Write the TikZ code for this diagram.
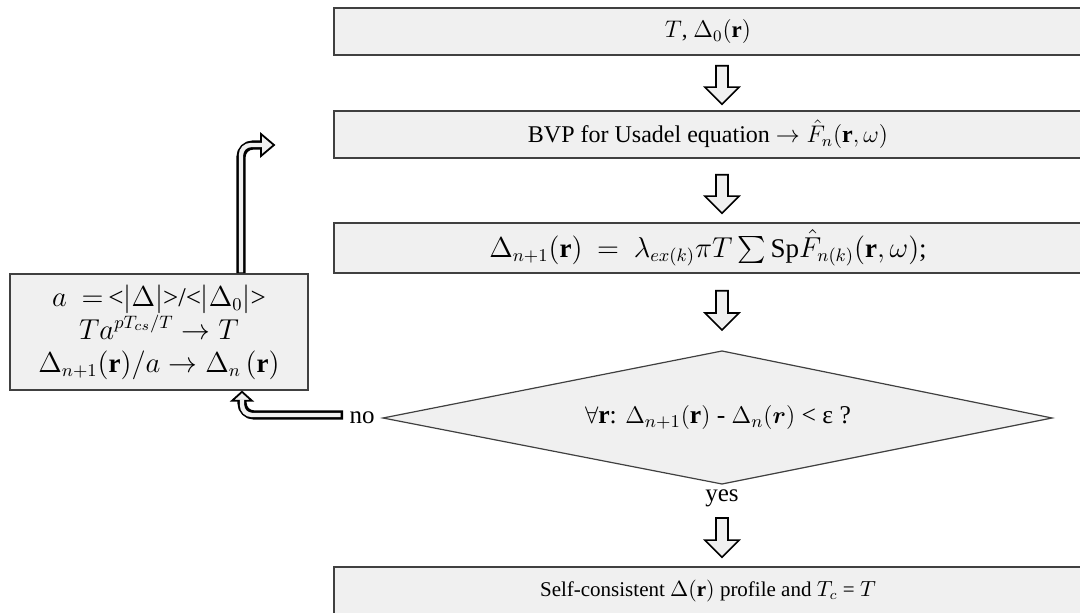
\documentclass[tikz,border=0pt]{standalone}
\usepackage{amsmath,amssymb}
\usepackage{fontspec}
\setmainfont{Liberation Serif}
\usetikzlibrary{calc,backgrounds}
\definecolor{boxfill}{HTML}{F0F0F0}
\definecolor{boxline}{HTML}{404040}
\newcommand\blkarrow[2]{%
  \path (#1) coordinate (ba-s) (#2) coordinate (ba-e);
  \filldraw[blkarrow] ($(ba-s)+(-6,0)$) -- ($(ba-s)+(6,0)$) -- ($(ba-e)+(6,-17)$)
    -- ($(ba-e)+(17,-17)$) -- (ba-e) -- ($(ba-e)+(-17,-17)$) -- ($(ba-e)+(-6,-17)$) -- cycle;}
\newcommand\fsz[1]{\fontsize{#1}{#1}\selectfont}
\begin{document}
\begin{tikzpicture}[x=0.5pt,y=-0.5pt,
  box/.style={draw=boxline, fill=boxfill, line width=0.8pt, inner sep=0pt},
  lbl/.style={inner sep=1pt},
  blkarrow/.style={fill=boxfill, draw=black, line width=0.8pt, line join=miter},
  hollowout/.style={draw=black, line width=4.6pt, rounded corners=6pt},
  hollowin/.style={draw=boxfill, line width=2.2pt, rounded corners=5pt},
  hollowhead/.style={fill=boxfill, draw=black, line width=0.9pt, line join=miter}]
\useasboundingbox (0,0) rectangle (1080,613);
% boxes
\node[box, minimum width=374pt, minimum height=23.5pt, font=\fsz{11.5}] (b1) at (708,31.5) {$T$, $\Delta_0(\mathbf r)$};
\node[box, minimum width=374pt, minimum height=23.5pt, font=\fsz{12}] (b2) at (708,134.5) {BVP for Usadel equation $\to \hat F_n(\mathbf r,\omega)$};
\node[box, minimum width=374pt, minimum height=25pt, font=\fsz{13.5}] (b3) at (708,248) {$\Delta_{n+1}(\mathbf r)\ =\ \lambda_{ex(k)}\pi T\sum\mathrm{Sp}\hat F_{n(k)}(\mathbf r,\omega)$;};
\node[box, minimum width=374pt, minimum height=24pt, font=\fsz{10.5}] (b4) at (708,591) {Self-consistent $\Delta(\mathbf r)$ profile and $T_c$ = $T$};
\node[box, minimum width=149pt, minimum height=58pt, align=center,
  font=\fontsize{13.5}{16.5}\selectfont] (lb) at (159,332)
  {$a\ =\,$<$|\Delta|$>/<$|\Delta_0|$>\\ $Ta^{pT_{cs}/T}\to T$\\ $\Delta_{n+1}(\mathbf r)/a\to\Delta_n\,(\mathbf r)$};
% decision
\node[lbl, font=\fsz{12.8}] (dia) at (718,418) {$\forall\mathbf r$: $\Delta_{n+1}(\mathbf r)$ - $\Delta_n(\boldsymbol r)$ < ε ?};
\coordinate (dia-l) at ($(dia)+(-335,0)$);
\coordinate (dia-r) at ($(dia)+(334,0)$);
\coordinate (dia-t) at ($(dia)+(4,-67)$);
\coordinate (dia-b) at ($(dia)+(4,66)$);
\begin{scope}[on background layer]
\filldraw[fill=boxfill, draw=boxline, line width=0.6pt] (dia-l) -- (dia-t) -- (dia-r) -- (dia-b) -- cycle;
\end{scope}
\node[lbl, anchor=east, font=\fsz{12.5}] (no) at ($(dia-l)+(-6,0)$) {no};
\node[lbl, anchor=north, font=\fsz{12.5}] (yes) at ($(dia-b)+(0,3)$) {yes};
% block arrows
\blkarrow{$(b1.south)+(14,10)$}{$(b2.north)+(14,-6)$}
\blkarrow{$(b2.south)+(14,16)$}{$(b3.north)+(14,-9)$}
\blkarrow{$(b3.south)+(14,17)$}{$(dia-t)+(0,-21)$}
\blkarrow{$(dia-b)+(0,34)$}{$(b4.north)+(14,-9)$}
% hollow arrow up (from left box to loop start)
\coordinate (u-s) at ($(lb.north)+(82,0)$);
\coordinate (u-b) at (261,145);
\coordinate (u-t) at (274,145);
\draw[hollowout] (u-s) |- (u-b);
\filldraw[hollowhead] ($(u-b)+(0,-11)$) -- (u-t) -- ($(u-b)+(0,11)$) -- cycle;
\draw[hollowin] ($(u-s)+(0,-0.8)$) |- ($(u-b)+(1.5,0)$);
% hollow arrow from "no" back to left box
\coordinate (n-s) at ($(no.west)+(-4,-3)$);
\coordinate (n-b) at ($(lb.south)+(83,10)$);
\coordinate (n-t) at ($(lb.south)+(83,1)$);
\draw[hollowout] (n-s) -| (n-b);
\filldraw[hollowhead] ($(n-b)+(-10,0)$) -- (n-t) -- ($(n-b)+(10,0)$) -- cycle;
\draw[hollowin] ($(n-s)+(-2.5,0)$) -| ($(n-b)+(0,-1.5)$);
\end{tikzpicture}
\end{document}
